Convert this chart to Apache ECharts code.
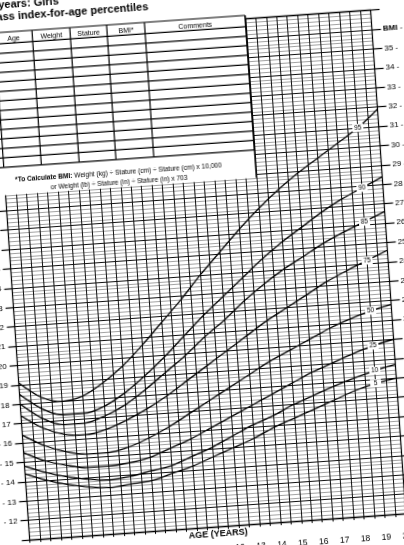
<!DOCTYPE html>
<html>
<head>
<meta charset="utf-8">
<script src="https://cdn.jsdelivr.net/npm/echarts@6/dist/echarts.min.js"></script>
<style>
  html, body { margin: 0; padding: 0; background: #fff; overflow: hidden; width: 404px; height: 545px; }
  /* the reference is a slightly tilted photo of the paper chart */
  #chart { position: absolute; left: -38px; top: -37.5px; width: 480px; height: 620px;
           transform: rotate(-4deg); transform-origin: 50% 50%; }
</style>
</head>
<body>
<div id="chart"></div>
<script>
// age in years, BMI percentile curves (girls)
const ages = [2, 3, 4, 5, 6, 7, 8, 9, 10, 11, 12, 13, 14, 15, 16, 17, 18, 19, 20];
const p95 = [19.1, 18.3, 18.0, 18.2, 18.8, 19.6, 20.6, 21.7, 22.8, 24.0, 25.1, 26.2, 27.2, 28.1, 28.9, 29.6, 30.3, 31.0, 31.9];
const p90 = [18.5, 17.7, 17.3, 17.3, 17.6, 18.2, 19.0, 19.9, 20.9, 21.9, 22.8, 23.7, 24.6, 25.4, 26.1, 26.8, 27.4, 27.9, 28.4];
const p85 = [18.0, 17.2, 16.8, 16.8, 17.1, 17.6, 18.3, 19.1, 19.9, 20.8, 21.6, 22.5, 23.3, 24.0, 24.6, 25.2, 25.7, 26.15, 26.6];
const p75 = [17.4, 16.7, 16.3, 16.2, 16.4, 16.8, 17.3, 17.9, 18.6, 19.3, 20.0, 20.7, 21.4, 22.0, 22.6, 23.2, 23.7, 24.15, 24.6];
const p50 = [16.4, 15.8, 15.4, 15.2, 15.2, 15.4, 15.8, 16.3, 16.9, 17.5, 18.1, 18.7, 19.3, 19.8, 20.3, 20.8, 21.2, 21.55, 21.8];
const p25 = [15.5, 15.0, 14.7, 14.5, 14.5, 14.6, 14.8, 15.2, 15.6, 16.1, 16.6, 17.1, 17.6, 18.1, 18.6, 19.0, 19.4, 19.75, 20.0];
const p10 = [14.8, 14.4, 14.1, 13.9, 13.8, 13.9, 14.1, 14.3, 14.7, 15.1, 15.6, 16.1, 16.5, 17.0, 17.4, 17.8, 18.15, 18.45, 18.7];
const p5  = [14.4, 14.0, 13.7, 13.5, 13.4, 13.5, 13.6, 13.9, 14.2, 14.6, 15.0, 15.4, 15.9, 16.3, 16.7, 17.1, 17.5, 17.8, 18.0];

const percentileNames = ['95', '90', '85', '75', '50', '25', '10', '5'];
const percentileData = [p95, p90, p85, p75, p50, p25, p10, p5];
const labelAge = 19; // where the small percentile tags sit

const tableHeaders = ['Date', 'Age', 'Weight', 'Stature', 'BMI*', 'Comments'];
const titleLines = ['2 to 20 years: Girls', 'Body mass index-for-age percentiles'];
const formulaLines = [
  '{b|*To Calculate BMI:} Weight (kg) ÷ Stature (cm) ÷ Stature (cm) x 10,000',
  'or Weight (lb) ÷ Stature (in) ÷ Stature (in) x 703'
];

const FONT = '"Liberation Sans", Arial, sans-serif';
const chart = echarts.init(document.getElementById('chart'), null, { renderer: 'canvas' });

const series = percentileData.map((vals, i) => ({
  name: percentileNames[i],
  type: 'line',
  data: ages.map((a, j) => [a, vals[j]]),
  smooth: 0.3,
  symbol: 'none',
  lineStyle: { color: '#000', width: 1.3 },
  z: 5,
  markPoint: {
    symbol: 'rect',
    symbolSize: [11, 8],
    itemStyle: { color: '#fff' },
    label: { show: true, position: 'inside', fontSize: 6.5, color: '#000', fontFamily: FONT,
             formatter: percentileNames[i] },
    data: [{ coord: [labelAge, vals[ages.indexOf(labelAge)]] }],
    z: 6
  }
}));

chart.setOption({
  backgroundColor: '#fff',
  animation: false,
  grid: { left: 49.6, right: 53.5, top: 59.7, bottom: 55.9 },
  xAxis: [{
    type: 'value', min: 2, max: 20, interval: 0.5,
    axisLine: { show: true, lineStyle: { color: '#000', width: 1.4 } },
    axisTick: { show: true, length: 3, lineStyle: { color: '#000' } },
    splitLine: { show: true, lineStyle: { color: '#111', width: 1 } },
    axisLabel: { margin: 18, fontSize: 8.5, color: '#000', fontFamily: FONT,
                 formatter: v => Number.isInteger(v) ? String(v) : '' },
    name: 'AGE (YEARS)', nameLocation: 'middle', nameGap: 7, nameMoveOverlap: false,
    nameTextStyle: { fontSize: 9, fontWeight: 'bold', color: '#000', fontFamily: FONT,
                     verticalAlign: 'middle', backgroundColor: '#fff', padding: [1, 2] }
  }, {
    type: 'value', min: 2, max: 20, position: 'top',
    axisLine: { show: true, lineStyle: { color: '#000', width: 1.4 } },
    axisTick: { show: false }, axisLabel: { show: false }, splitLine: { show: false }
  }],
  yAxis: [{
    type: 'value', min: 11, max: 37, interval: 1, position: 'left',
    axisLine: { show: true, lineStyle: { color: '#000', width: 1.2 } },
    axisTick: { show: true, length: 8, lineStyle: { color: '#000', width: 1.2 } },
    splitLine: { show: true, lineStyle: { color: '#111', width: 1.2 } },
    minorTick: { show: false, splitNumber: 5 },
    minorSplitLine: { show: true, lineStyle: { color: '#8c8c8c', width: 0.8 } },
    axisLabel: { margin: 11, fontSize: 8, color: '#000', fontFamily: FONT,
                 formatter: v => (v >= 12 && v <= 28) ? '- ' + v : '' }
  }, {
    type: 'value', min: 11, max: 37, interval: 1, position: 'right',
    axisLine: { show: true, lineStyle: { color: '#000', width: 1.2 } },
    axisTick: { show: true, length: 9, lineStyle: { color: '#000', width: 1.2 } },
    splitLine: { show: false },
    axisLabel: { margin: 11, fontSize: 8, color: '#000', fontFamily: FONT,
                 formatter: v => v === 36 ? '{b|BMI} -' : (v >= 12 && v <= 35 ? v + ' -' : ''),
                 rich: { b: { fontSize: 8, fontWeight: 'bold', fontFamily: FONT, color: '#000' } } }
  }],
  series
});

// record table + BMI formula box in the upper left, laid out from the grid
const gridLeft = chart.convertToPixel({ gridIndex: 0 }, [2, 37])[0];
const gridTop = chart.convertToPixel({ gridIndex: 0 }, [2, 37])[1];
const corner = chart.convertToPixel({ gridIndex: 0 }, [14, 28.8]);
const boxTop = gridTop - 3.7;
const boxRight = corner[0];
const boxBottom = corner[1];
const headerH = 11.3, rowH = 9.5, rowCount = 13;
const colEdges = [gridLeft - 37.6, gridLeft, gridLeft + 37.7, gridLeft + 75.6, gridLeft + 112.5, gridLeft + 150.4, boxRight];

const graphic = [];
graphic.push({ type: 'rect', z: 100, shape: { x: -40, y: -40, width: boxRight + 40, height: boxBottom + 40 },
               style: { fill: '#fff' } });
const tableBottom = boxTop + headerH + rowCount * rowH;
const line = (x1, y1, x2, y2) => graphic.push({ type: 'line', z: 101,
  shape: { x1, y1, x2, y2 }, style: { stroke: '#000', lineWidth: 1.2 } });
line(-40, boxTop, boxRight, boxTop);
for (let r = 0; r <= rowCount; r++) {
  const y = boxTop + headerH + r * rowH;
  line(-40, y, boxRight, y);
}
colEdges.forEach(x => line(x, boxTop, x, tableBottom));
line(boxRight, boxTop, boxRight, boxBottom);
tableHeaders.forEach((h, i) => graphic.push({ type: 'text', z: 102,
  style: { text: h, x: (colEdges[i] + colEdges[i + 1]) / 2, y: boxTop + headerH / 2 + 1,
           align: 'center', verticalAlign: 'middle', font: '7px ' + FONT, fill: '#000' } }));
formulaLines.forEach((t, i) => graphic.push({ type: 'text', z: 102,
  style: { text: t, x: gridLeft + 114, y: boxBottom - 15 + i * 10, align: 'center', verticalAlign: 'middle',
           font: '6.6px ' + FONT, fill: '#000',
           rich: { b: { font: 'bold 6.6px ' + FONT, fill: '#000' } } } }));
// chart title above the table
titleLines.forEach((t, i) => graphic.push({ type: 'text', z: 102,
  style: { text: t, x: i === 0 ? 116 : 205, y: i === 0 ? 28.8 : 41.3, align: 'right', verticalAlign: 'middle',
           font: 'bold 11px ' + FONT, fill: '#000' } }));

chart.setOption({ graphic });
</script>
</body>
</html>
